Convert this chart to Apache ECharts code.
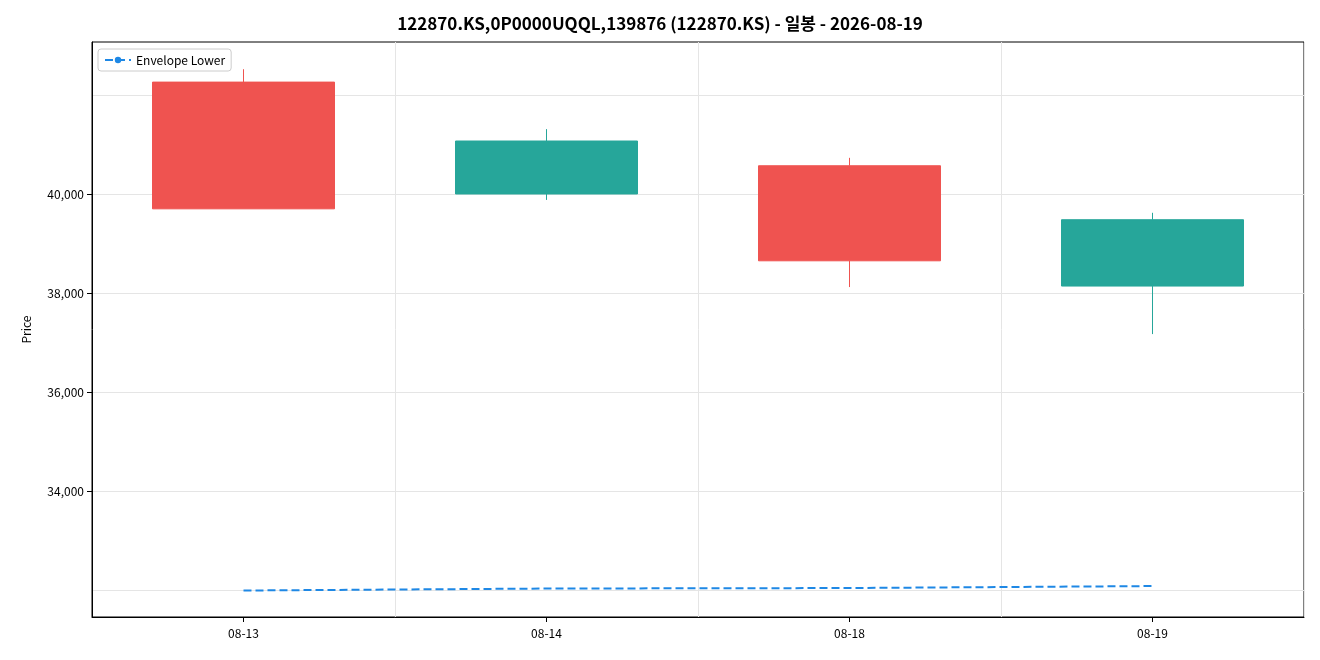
<!DOCTYPE html>
<html><head><meta charset="utf-8">
<script src="https://cdn.jsdelivr.net/npm/echarts@6/dist/echarts.min.js"></script>
<style>html,body{margin:0;padding:0;background:#fff}#c{width:1320px;height:660px}</style>
</head><body><div id="c"></div>
<script>
const categories = ['08-13','08-14','08-18','08-19'];
// [open, close, low, high]
const ohlc = [
  [42260, 39700, 39700, 42520],
  [40000, 41070, 39880, 41310],
  [40570, 38650, 38120, 40730],
  [38140, 39480, 37170, 39620]
];
const envelopeLower = [31990, 32030, 32040, 32080];
const yTicks = [32000, 34000, 36000, 38000, 40000, 42000];

const chart = echarts.init(document.getElementById('c'));
const font = "'Noto Sans CJK KR','Noto Sans',sans-serif";
chart.setOption({
  animation:false,
  textStyle:{fontFamily:font},
  title:{text:'122870.KS,0P0000UQQL,139876 (122870.KS) - 일봉 - 2026-08-19',left:'center',top:10,
    textStyle:{fontSize:17,fontWeight:'bold',color:'#000',fontFamily:font}},
  legend:{data:['Envelope Lower'],left:98,top:49,orient:'vertical',itemWidth:26,itemHeight:8,
    backgroundColor:'#fff',borderColor:'#ccc',borderWidth:1,borderRadius:3,padding:[5,6],
    textStyle:{fontSize:12,color:'#000'}},
  grid:{left:92,right:16,top:42,bottom:43,show:true,borderColor:'#000',borderWidth:1},
  xAxis:{type:'category',data:categories,boundaryGap:true,
    axisLine:{lineStyle:{color:'#000'}},axisTick:{show:true,alignWithLabel:true,lineStyle:{color:'#000'}},
    axisLabel:{color:'#000',fontSize:12,margin:10},
    splitLine:{show:true,interval:0,lineStyle:{color:'#e5e5e5'}}},
  yAxis:{type:'value',min:31455,max:43070,interval:2000,name:'Price',nameLocation:'middle',nameGap:60,
    nameTextStyle:{color:'#000',fontSize:12},
    axisLine:{show:true,lineStyle:{color:'#000'}},axisTick:{show:true,lineStyle:{color:'#000'}},
    axisLabel:{color:'#000',fontSize:12,customValues:yTicks,showMinLabel:false,showMaxLabel:false},
    axisTick:{show:true,customValues:yTicks},
    splitLine:{show:true,lineStyle:{color:'#e5e5e5'}}},
  series:[
    {type:'candlestick',data:ohlc,barWidth:'60%',
      itemStyle:{color:'#26a69a',color0:'#ef5350',borderColor:'#26a69a',borderColor0:'#ef5350',borderWidth:1}},
    {name:'Envelope Lower',type:'line',data:envelopeLower,symbol:'none',
      lineStyle:{color:'#1e88e5',type:'dashed',width:2},itemStyle:{color:'#1e88e5'}}
  ]
});
</script></body></html>
